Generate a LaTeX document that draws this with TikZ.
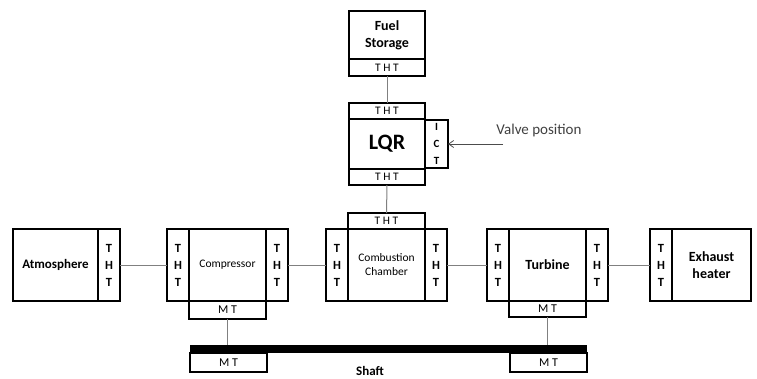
\documentclass[tikz,border=0pt]{standalone}
\usepackage{fontspec}
\setmainfont{Carlito}
\usetikzlibrary{arrows.meta,positioning}

\begin{document}
\begin{tikzpicture}[x=1pt,y=-1pt,
  cell/.style={draw, line width=1.2pt, inner sep=0pt, outer sep=0pt, align=center},
  unit/.style={cell, minimum width=77pt, minimum height=72pt},
  vport/.style={cell, minimum width=22pt, minimum height=72pt, font=\fontsize{12.5}{17}\selectfont\bfseries},
  hport/.style={cell, minimum width=76pt, minimum height=17pt, font=\fontsize{11.5}{12}\selectfont},
  mport/.style={cell, minimum width=77pt, minimum height=18pt, font=\fontsize{12}{12}\selectfont},
  big/.style={font=\fontsize{14}{17}\selectfont\bfseries},
  small/.style={font=\fontsize{11.5}{14}\selectfont},
  link/.style={draw=gray, line width=1pt}]
\useasboundingbox (0,0) rectangle (757,378);

% fuel line
\node[cell, big, minimum width=76pt, minimum height=48pt, anchor=north west] (fuel) at (349,11) {Fuel\\Storage};
\node[hport, below=0pt of fuel] (fuelT) {T H T};
\node[hport, minimum height=16pt, anchor=north west] (lqrT) at (349,103) {T H T};
\node[cell, minimum width=76pt, minimum height=50pt, below=0pt of lqrT, font=\fontsize{22}{24}\selectfont\bfseries] (lqr) {LQR};
\node[hport, minimum height=16pt, below=0pt of lqr] (lqrB) {T H T};
\node[cell, minimum width=23pt, minimum height=48pt, right=0pt of lqr, font=\fontsize{11}{17}\selectfont\bfseries] (ict) {I\\C\\T};
\node[font=\fontsize{15}{17}\selectfont, text=black!75] (valve) at (539,130) {Valve position};
\coordinate (valveIn) at (503,144);

% main row
\node[unit, minimum width=85pt, anchor=north west, font=\fontsize{13}{16}\selectfont\bfseries] (atm) at (13,229) {Atmosphere};
\node[vport, right=0pt of atm] (atmP) {T\\H\\T};

\node[vport, anchor=north west] (compL) at (167,229) {T\\H\\T};
\node[unit, small, right=0pt of compL] (comp) {Compressor};
\node[vport, right=0pt of comp] (compR) {T\\H\\T};
\node[mport, below=0pt of comp] (compM) {M T};

\node[vport, anchor=north west] (combL) at (326,229) {T\\H\\T};
\node[unit, small, right=0pt of combL] (comb) {Combustion\\Chamber};
\node[vport, right=0pt of comb] (combR) {T\\H\\T};
\node[hport, minimum width=77pt, minimum height=16pt, above=0pt of comb] (combT) {T H T};

\node[vport, anchor=north west] (turbL) at (487,229) {T\\H\\T};
\node[unit, big, right=0pt of turbL] (turb) {Turbine};
\node[vport, right=0pt of turb] (turbR) {T\\H\\T};
\node[mport, minimum height=16pt, below=0pt of turb] (turbM) {M T};

\node[vport, anchor=north west] (exhL) at (650,229) {T\\H\\T};
\node[unit, big, minimum width=79pt, right=0pt of exhL] (exh) {Exhaust\\heater};

% shaft
\node[fill=black, inner sep=0pt, outer sep=0pt, minimum width=397pt, minimum height=8pt, anchor=north west] (shaft) at (190,345) {};
\node[mport, minimum height=19pt, anchor=north west] (shaftC) at (shaft.south west) {M T};
\node[mport, minimum height=19pt, anchor=north east] (shaftT) at (shaft.south east) {M T};
\node[font=\fontsize{13}{16}\selectfont\bfseries] (shaftL) at (370,371) {Shaft};

% connectors
\draw[link] (fuelT) -- (lqrT);
\draw[link] (lqrB) -- (combT);
\draw[link] (atmP) -- (compL);
\draw[link] (compR) -- (combL);
\draw[link] (combR) -- (turbL);
\draw[link] (turbR) -- (exhL);
\draw[link] (compM) -- (compM |- shaft.north);
\draw[link] (turbM) -- (turbM |- shaft.north);
\draw[draw=black!70, line width=0.8pt, -{Straight Barb[length=5pt,width=7pt]}] (valveIn) -- (ict.east);
\end{tikzpicture}
\end{document}
